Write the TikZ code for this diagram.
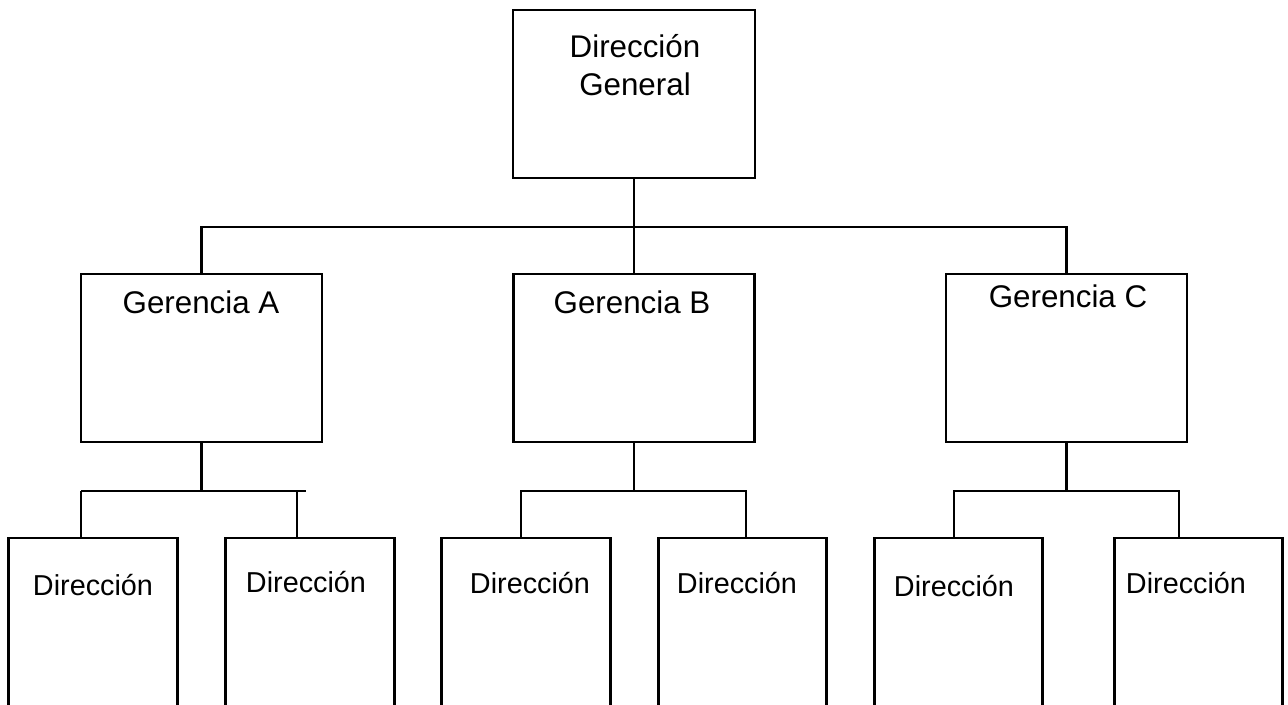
\documentclass[tikz,border=0pt]{standalone}
\usepackage{fontspec}
\setmainfont{Liberation Sans}
\begin{document}
\begin{tikzpicture}[x=0.75pt, y=-0.75pt,
  unit/.style={draw=black, line width=2.2pt, inner sep=0pt, fill=white},
  topunit/.style={unit, minimum width=181.5pt, minimum height=126pt},
  midunit/.style={unit, minimum width=180.75pt, minimum height=126pt},
  lowunit/.style={unit, minimum width=126.4pt, minimum height=136.5pt},
  link/.style={line width=2.2pt},
  bigtxt/.style={anchor=base, inner sep=0pt, font=\fontsize{23.5}{28}\selectfont},
  smalltxt/.style={anchor=base, inner sep=0pt, font=\fontsize{21.6}{26}\selectfont}]
\clip (0,0) rectangle (1288,705);
\fill[white] (0,0) rectangle (1288,705);

% head office
\node[topunit] (dg) at (634,94) {};
\node[bigtxt] (dgA) at (635,58) {Dirección};
\node[bigtxt] (dgB) at (635,96) {General};

% managements
\node[midunit] (ga) at (201.5,358) {};
\node[midunit] (gb) at (634,358) {};
\node[midunit] (gc) at (1066.5,358) {};
\node[bigtxt] (gaT) at (201,314) {Gerencia A};
\node[bigtxt] (gbT) at (632,314) {Gerencia B};
\node[bigtxt] (gcT) at (1068,308) {Gerencia C};

% directorates (running off the lower edge)
\node[lowunit] (d1) at (93,629) {};
\node[lowunit] (d2) at (310,629) {};
\node[lowunit] (d3) at (526,629) {};
\node[lowunit] (d4) at (742.5,629) {};
\node[lowunit] (d5) at (958.5,629) {};
\node[lowunit] (d6) at (1198.5,629) {};
\node[smalltxt] (d1T) at (93,595) {Dirección};
\node[smalltxt] (d2T) at (306,592) {Dirección};
\node[smalltxt] (d3T) at (530,593) {Dirección};
\node[smalltxt] (d4T) at (737,593) {Dirección};
\node[smalltxt] (d5T) at (954,596) {Dirección};
\node[smalltxt] (d6T) at (1186,593) {Dirección};

% upper tree
\coordinate (busTop) at (634,227);
\draw[link] (dg.south) -- (gb.north);
\draw[link] (ga.north) |- (busTop) -| (gc.north);

% branch A
\coordinate (a1) at (81,491);
\coordinate (a2) at (297,491);
\coordinate (aEnd) at (306,491);
\draw[link] (ga.south) -- (ga.south |- a1);
\draw[link] (a1) -- (aEnd);
\draw[link] (a1) -- (a1 |- d1.north);
\draw[link] (a2) -- (a2 |- d2.north);

% branch B
\coordinate (b1) at (521,491);
\coordinate (b2) at (746,491);
\draw[link] (gb.south) -- (gb.south |- b1);
\draw[link] (d3.north -| b1) -- (b1) -- (b2) -- (b2 |- d4.north);

% branch C
\coordinate (c1) at (954,491);
\coordinate (c2) at (1179,491);
\draw[link] (gc.south) -- (gc.south |- c1);
\draw[link] (d5.north -| c1) -- (c1) -- (c2) -- (c2 |- d6.north);
\end{tikzpicture}
\end{document}
